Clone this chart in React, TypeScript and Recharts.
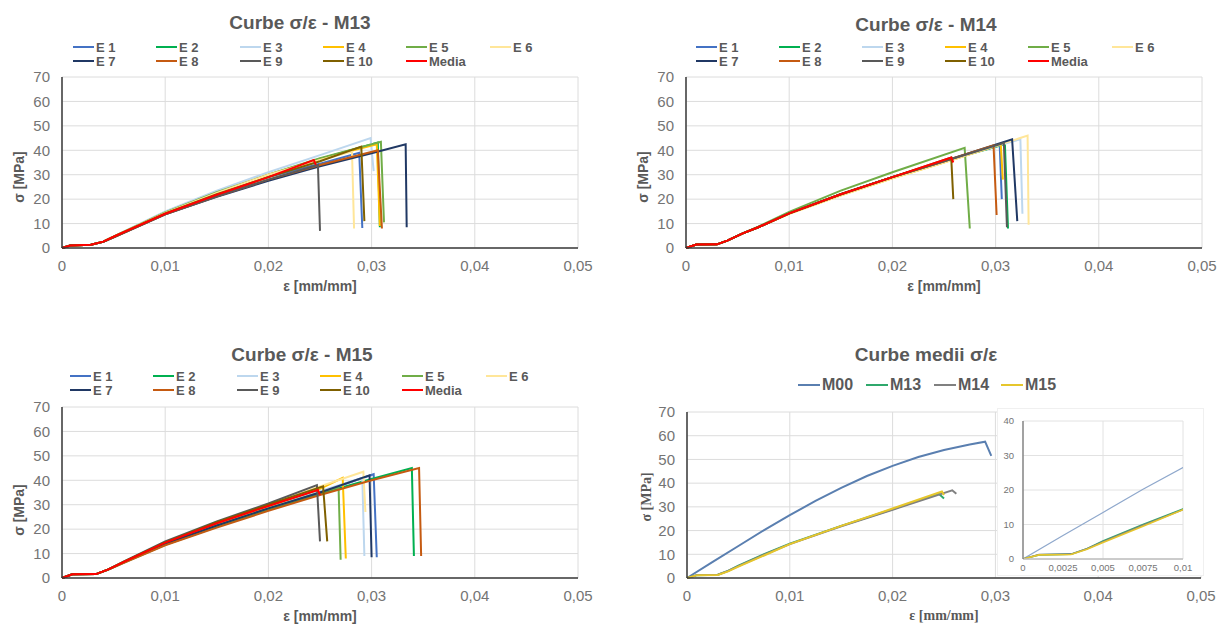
import { CartesianGrid, Line, LineChart, XAxis, YAxis } from "recharts";

type Pt = [number, number];

const strainTicks = [0, 0.01, 0.02, 0.03, 0.04, 0.05];
const stressTicks = [0, 10, 20, 30, 40, 50, 60, 70];
const insetStrainTicks = [0, 0.0025, 0.005, 0.0075, 0.01];
const insetStressTicks = [0, 10, 20, 30, 40];

const testNames = ["E 1", "E 2", "E 3", "E 4", "E 5", "E 6", "E 7", "E 8", "E 9", "E 10", "Media"];
const testColors = ["#4472C4", "#00B050", "#BDD7EE", "#FFC000", "#70AD47", "#FFE699", "#203864", "#C55A11", "#595959", "#7F6000", "#FF0000"];

const meanNames = ["M00", "M13", "M14", "M15"];
const meanColors = ["#5A7FB0", "#2FA86C", "#808080", "#E6C62C"];

// M13
const m13E1: Pt[] = [[0, 0], [0.0008, 1], [0.0028, 1.3], [0.004, 2.6], [0.005, 4.6], [0.01, 14.2], [0.015, 22], [0.02, 29], [0.025, 34.5], [0.0288, 39], [0.0291, 8.2]];
const m13E2: Pt[] = [[0, 0], [0.0008, 1], [0.0028, 1.3], [0.004, 2.6], [0.005, 4.6], [0.01, 14.5], [0.015, 22.5], [0.02, 29.5], [0.025, 36.5], [0.0306, 43.2], [0.0308, 8.5]];
const m13E3: Pt[] = [[0, 0], [0.0008, 1], [0.0028, 1.3], [0.004, 2.7], [0.005, 4.8], [0.01, 15], [0.015, 23.5], [0.02, 31], [0.025, 38], [0.0299, 45], [0.0302, 31.5]];
const m13E4: Pt[] = [[0, 0], [0.0008, 1], [0.0028, 1.3], [0.004, 2.6], [0.005, 4.6], [0.01, 14.5], [0.015, 22.5], [0.02, 30], [0.025, 36.5], [0.0305, 42.5], [0.0308, 9]];
const m13E5: Pt[] = [[0, 0], [0.0008, 1], [0.0028, 1.3], [0.004, 2.6], [0.005, 4.6], [0.01, 14.6], [0.015, 22.8], [0.02, 30], [0.025, 36.8], [0.0309, 43.5], [0.0312, 10.5]];
const m13E6: Pt[] = [[0, 0], [0.0008, 1], [0.0028, 1.3], [0.004, 2.6], [0.005, 4.6], [0.01, 14.4], [0.015, 22.5], [0.02, 30], [0.025, 36], [0.0281, 39.5], [0.0283, 8]];
const m13E7: Pt[] = [[0, 0], [0.0008, 1], [0.0028, 1.3], [0.004, 2.5], [0.005, 4.4], [0.01, 13.8], [0.015, 21], [0.02, 27.5], [0.025, 33.5], [0.03, 38.8], [0.0333, 42.5], [0.0334, 8.5]];
const m13E8: Pt[] = [[0, 0], [0.0008, 1], [0.0028, 1.3], [0.004, 2.5], [0.005, 4.4], [0.01, 13.8], [0.015, 21.2], [0.02, 28], [0.025, 34], [0.0306, 40], [0.031, 8]];
const m13E9: Pt[] = [[0, 0], [0.0008, 1], [0.0028, 1.3], [0.004, 2.5], [0.005, 4.4], [0.01, 13.8], [0.015, 21.2], [0.02, 28], [0.0248, 34], [0.025, 7]];
const m13E10: Pt[] = [[0, 0], [0.0008, 1], [0.0028, 1.3], [0.004, 2.6], [0.005, 4.6], [0.01, 14.2], [0.015, 22], [0.02, 29], [0.025, 35.5], [0.029, 41.5], [0.0293, 11]];
const m13Media: Pt[] = [[0, 0], [0.0008, 1], [0.0028, 1.3], [0.004, 2.6], [0.005, 4.6], [0.01, 14], [0.015, 21.8], [0.02, 29], [0.0244, 36], [0.0246, 34]];

// M14
const m14E1: Pt[] = [[0, 0], [0.001, 1.4], [0.003, 1.5], [0.004, 3], [0.0055, 6], [0.007, 8.5], [0.01, 14.2], [0.015, 22], [0.02, 29], [0.025, 35.5], [0.0304, 42], [0.0306, 20]];
const m14E2: Pt[] = [[0, 0], [0.001, 1.4], [0.003, 1.5], [0.004, 3], [0.0055, 6], [0.007, 8.5], [0.01, 14.2], [0.015, 22], [0.02, 29], [0.025, 35.5], [0.0309, 42.5], [0.0312, 8]];
const m14E3: Pt[] = [[0, 0], [0.001, 1.4], [0.003, 1.5], [0.004, 3], [0.0055, 6], [0.007, 8.5], [0.01, 14.2], [0.015, 22], [0.02, 29], [0.025, 35.5], [0.0324, 44.5], [0.0326, 14]];
const m14E4: Pt[] = [[0, 0], [0.001, 1.4], [0.003, 1.5], [0.004, 3], [0.0055, 6], [0.007, 8.5], [0.01, 14], [0.015, 21.6], [0.02, 28.5], [0.025, 35], [0.0305, 42.5], [0.0307, 28]];
const m14E5: Pt[] = [[0, 0], [0.001, 1.4], [0.003, 1.5], [0.004, 3], [0.0055, 6], [0.007, 8.7], [0.01, 14.8], [0.015, 23.5], [0.02, 31], [0.027, 41], [0.0275, 8]];
const m14E6: Pt[] = [[0, 0], [0.001, 1.4], [0.003, 1.5], [0.004, 3], [0.0055, 6], [0.007, 8.5], [0.01, 14], [0.015, 21.5], [0.02, 28.5], [0.025, 35], [0.0331, 46], [0.0332, 9.5]];
const m14E7: Pt[] = [[0, 0], [0.001, 1.4], [0.003, 1.5], [0.004, 3], [0.0055, 6], [0.007, 8.5], [0.01, 14.2], [0.015, 22], [0.02, 29], [0.025, 35.5], [0.0316, 44.5], [0.0321, 11]];
const m14E8: Pt[] = [[0, 0], [0.001, 1.4], [0.003, 1.5], [0.004, 3], [0.0055, 6], [0.007, 8.5], [0.01, 14.2], [0.015, 22], [0.02, 29], [0.025, 35.5], [0.0298, 42], [0.0301, 13.5]];
const m14E9: Pt[] = [[0, 0], [0.001, 1.4], [0.003, 1.5], [0.004, 3], [0.0055, 6], [0.007, 8.5], [0.01, 14.2], [0.015, 22], [0.02, 29], [0.025, 35.5], [0.0308, 43], [0.0311, 8.5]];
const m14E10: Pt[] = [[0, 0], [0.001, 1.4], [0.003, 1.5], [0.004, 3], [0.0055, 6], [0.007, 8.5], [0.01, 14.2], [0.015, 22], [0.02, 29], [0.0257, 37], [0.0259, 20]];
const m14Media: Pt[] = [[0, 0], [0.001, 1.4], [0.003, 1.5], [0.004, 3], [0.0055, 6], [0.007, 8.5], [0.01, 14.2], [0.015, 22], [0.02, 29], [0.0257, 37], [0.0259, 35]];

// M15
const m15E1: Pt[] = [[0, 0], [0.001, 1.5], [0.0033, 1.6], [0.0045, 3.5], [0.006, 6.5], [0.01, 14], [0.015, 21.5], [0.02, 28.5], [0.025, 35], [0.0302, 42.5], [0.0305, 8.5]];
const m15E2: Pt[] = [[0, 0], [0.001, 1.5], [0.0033, 1.6], [0.0045, 3.5], [0.006, 6.3], [0.01, 13.6], [0.015, 21], [0.02, 28], [0.025, 34.5], [0.03, 40.5], [0.0339, 45], [0.0341, 9]];
const m15E3: Pt[] = [[0, 0], [0.001, 1.5], [0.0033, 1.6], [0.0045, 3.5], [0.006, 6.5], [0.01, 14.2], [0.015, 22], [0.02, 29], [0.025, 35.5], [0.0291, 41], [0.0293, 9]];
const m15E4: Pt[] = [[0, 0], [0.001, 1.5], [0.0033, 1.6], [0.0045, 3.5], [0.006, 6.5], [0.01, 14.4], [0.015, 22.4], [0.02, 29.5], [0.025, 36.5], [0.0272, 41], [0.0275, 8]];
const m15E5: Pt[] = [[0, 0], [0.001, 1.5], [0.0033, 1.6], [0.0045, 3.5], [0.006, 6.5], [0.01, 14], [0.015, 21.5], [0.02, 28.5], [0.025, 35], [0.0268, 37], [0.027, 7.5]];
const m15E6: Pt[] = [[0, 0], [0.001, 1.5], [0.0033, 1.6], [0.0045, 3.5], [0.006, 6.6], [0.01, 14.6], [0.015, 22.8], [0.02, 30], [0.025, 37.5], [0.0292, 43.5], [0.0294, 27]];
const m15E7: Pt[] = [[0, 0], [0.001, 1.5], [0.0033, 1.6], [0.0045, 3.5], [0.006, 6.5], [0.01, 14], [0.015, 21.5], [0.02, 28.5], [0.025, 35], [0.0298, 42], [0.03, 8.5]];
const m15E8: Pt[] = [[0, 0], [0.001, 1.5], [0.0033, 1.6], [0.0045, 3.5], [0.006, 6.2], [0.01, 13.4], [0.015, 20.6], [0.02, 27.5], [0.025, 34], [0.03, 40], [0.0346, 45], [0.0348, 9]];
const m15E9: Pt[] = [[0, 0], [0.001, 1.5], [0.0033, 1.6], [0.0045, 3.5], [0.006, 6.8], [0.01, 15], [0.015, 23.2], [0.02, 30.5], [0.0247, 38], [0.025, 15]];
const m15E10: Pt[] = [[0, 0], [0.001, 1.5], [0.0033, 1.6], [0.0045, 3.5], [0.006, 6.7], [0.01, 14.6], [0.015, 22.8], [0.02, 30], [0.0253, 37.5], [0.0257, 15]];
const m15Media: Pt[] = [[0, 0], [0.001, 1.5], [0.0033, 1.6], [0.0045, 3.5], [0.006, 6.6], [0.01, 14.5], [0.015, 22.4], [0.02, 29.5], [0.0248, 36], [0.025, 34]];

// curve medii
const meanM00: Pt[] = [[0, 0], [0.0025, 6.8], [0.005, 13.5], [0.0075, 20.2], [0.01, 26.5], [0.0125, 32.5], [0.015, 38], [0.0175, 43], [0.02, 47.3], [0.0225, 51], [0.025, 54], [0.0275, 56.3], [0.029, 57.5], [0.0296, 51.5]];
const meanM13: Pt[] = [[0, 0], [0.001, 1.2], [0.003, 1.4], [0.004, 3], [0.005, 5.2], [0.0075, 10], [0.01, 14.5], [0.015, 22], [0.02, 29], [0.0245, 35.5], [0.025, 33.5]];
const meanM14: Pt[] = [[0, 0], [0.001, 1.3], [0.003, 1.4], [0.004, 3], [0.005, 5], [0.0075, 9.8], [0.01, 14.3], [0.015, 21.8], [0.02, 28.8], [0.0258, 37], [0.0262, 35.5]];
const meanM15: Pt[] = [[0, 0], [0.001, 1.2], [0.003, 1.3], [0.004, 2.8], [0.005, 4.8], [0.0075, 9.5], [0.01, 14.3], [0.015, 22], [0.02, 29.3], [0.0248, 36.5], [0.025, 35]];

const m13Curves = [m13E1, m13E2, m13E3, m13E4, m13E5, m13E6, m13E7, m13E8, m13E9, m13E10, m13Media];
const m14Curves = [m14E1, m14E2, m14E3, m14E4, m14E5, m14E6, m14E7, m14E8, m14E9, m14E10, m14Media];
const m15Curves = [m15E1, m15E2, m15E3, m15E4, m15E5, m15E6, m15E7, m15E8, m15E9, m15E10, m15Media];
const meanCurves = [meanM00, meanM13, meanM14, meanM15];

const SANS = "'Liberation Sans', Arial, sans-serif";
const SERIF = "'Liberation Serif', 'Times New Roman', serif";
const GREY = "#595959";
const TICK = "#747474";

const fmt = (v: number) => String(v).replace(".", ",");
const toRows = (pts: Pt[]) => pts.map(([x, y]) => ({ x, y }));

interface Box { l: number; t: number; r: number; b: number }

interface PanelProps {
  x: number;
  y: number;
  w: number;
  h: number;
  plot: Box;
  title: string;
  titleX: number;
  titleY: number;
  curves: Pt[][];
  names: string[];
  colors: string[];
  legendCols: number[];
  legendRows: number[];
  legendFont: number;
  legendLine: number;
  yLabelX: number;
  yLabelY: number;
  xLabelY: number;
  serifLabels?: boolean;
}

function Panel(p: PanelProps) {
  const xAxisH = 30;
  const labelFont = p.serifLabels ? SERIF : SANS;
  return (
    <>
      <div style={{ position: "absolute", left: p.titleX - 200, top: p.titleY - 12, width: 400, textAlign: "center", fontSize: 19, fontWeight: "bold", color: GREY, lineHeight: "24px" }}>
        {p.title}
      </div>
      {p.names.map((name, i) => {
        const col = i % p.legendCols.length;
        const row = Math.floor(i / p.legendCols.length);
        return (
          <div key={name} style={{ position: "absolute", left: p.legendCols[col], top: p.legendRows[row] - 9, height: 18, display: "flex", alignItems: "center", whiteSpace: "nowrap" }}>
            <span style={{ display: "inline-block", width: p.legendLine, height: 2, background: p.colors[i] }} />
            <span style={{ marginLeft: 2, fontSize: p.legendFont, fontWeight: "bold", color: GREY }}>{name}</span>
          </div>
        );
      })}
      <div style={{ position: "absolute", left: p.x, top: p.y }}>
        <LineChart
          width={p.w}
          height={p.h}
          margin={{ top: p.plot.t - p.y, right: p.x + p.w - p.plot.r, left: 0, bottom: p.y + p.h - p.plot.b - xAxisH }}
        >
          <CartesianGrid stroke="#DCDCDC" strokeWidth={1} />
          <XAxis
            dataKey="x"
            type="number"
            domain={[0, 0.05]}
            ticks={strainTicks}
            tickFormatter={fmt}
            height={xAxisH}
            tickLine={false}
            tickSize={0}
            tickMargin={12}
            axisLine={{ stroke: "#3A3A3A", strokeWidth: 1.5 }}
            tick={{ fill: TICK, fontSize: 15 }}
            allowDuplicatedCategory={false}
          />
          <YAxis
            dataKey="y"
            type="number"
            domain={[0, 70]}
            ticks={stressTicks}
            width={p.plot.l - p.x}
            tickLine={false}
            tickSize={0}
            tickMargin={12}
            axisLine={{ stroke: "#3A3A3A", strokeWidth: 1.5 }}
            tick={{ fill: TICK, fontSize: 15 }}
          />
          {p.curves.map((pts, i) => (
            <Line
              key={p.names[i]}
              data={toRows(pts)}
              dataKey="y"
              type="linear"
              stroke={p.colors[i]}
              strokeWidth={2}
              dot={false}
              activeDot={false}
              isAnimationActive={false}
            />
          ))}
        </LineChart>
      </div>
      <div style={{ position: "absolute", left: (p.plot.l + p.plot.r) / 2 - 100, top: p.xLabelY - 9, width: 200, textAlign: "center", fontSize: 14, fontWeight: "bold", color: GREY, fontFamily: labelFont, lineHeight: "18px" }}>
        ε [mm/mm]
      </div>
      <div style={{ position: "absolute", left: p.yLabelX - 50, top: p.yLabelY - 9, width: 100, textAlign: "center", fontSize: 14, fontWeight: "bold", color: GREY, fontFamily: labelFont, lineHeight: "18px", transform: "rotate(-90deg)" }}>
        σ [MPa]
      </div>
    </>
  );
}

function Inset() {
  const box = { x: 998, y: 409, w: 205, h: 166 };
  const plot = { l: 1023, t: 421, r: 1183, b: 559 };
  const xAxisH = 14;
  return (
    <div style={{ position: "absolute", left: box.x, top: box.y, background: "#FFFFFF", outline: "1px solid #F0F0F0" }}>
      <LineChart
        width={box.w}
        height={box.h}
        margin={{ top: plot.t - box.y, right: box.x + box.w - plot.r, left: 0, bottom: box.y + box.h - plot.b - xAxisH }}
      >
        <CartesianGrid stroke="#E2E2E2" strokeWidth={1} />
        <XAxis
          dataKey="x"
          type="number"
          domain={[0, 0.01]}
          ticks={insetStrainTicks}
          tickFormatter={fmt}
          allowDataOverflow
          height={xAxisH}
          tickLine={false}
          tickSize={0}
          tickMargin={5}
          axisLine={{ stroke: "#BFBFBF", strokeWidth: 1.5 }}
          tick={{ fill: TICK, fontSize: 9.5 }}
          allowDuplicatedCategory={false}
        />
        <YAxis
          dataKey="y"
          type="number"
          domain={[0, 40]}
          ticks={insetStressTicks}
          allowDataOverflow
          width={plot.l - box.x}
          tickLine={false}
          tickSize={0}
          tickMargin={9}
          axisLine={{ stroke: "#6E6E6E", strokeWidth: 1.2 }}
          tick={{ fill: TICK, fontSize: 9.5 }}
        />
        {meanCurves.map((pts, i) => (
          <Line
            key={meanNames[i]}
            data={toRows(pts)}
            dataKey="y"
            type="linear"
            stroke={i === 0 ? "#8FA8CC" : meanColors[i]}
            strokeWidth={i === 0 ? 1.2 : 1.6}
            dot={false}
            activeDot={false}
            isAnimationActive={false}
          />
        ))}
      </LineChart>
    </div>
  );
}

export default function App() {
  return (
    <div style={{ position: "absolute", left: 0, top: 0, width: 1218, height: 626, background: "#FFFFFF", fontFamily: SANS, overflow: "hidden" }}>
      <Panel
        x={0} y={0} w={600} h={300}
        plot={{ l: 62, t: 77, r: 578, b: 248 }}
        title="Curbe σ/ε - M13" titleX={300} titleY={23}
        curves={m13Curves} names={testNames} colors={testColors}
        legendCols={[73, 156, 240, 323, 406, 490]} legendRows={[47, 61]} legendFont={13} legendLine={21}
        yLabelX={19} yLabelY={177} xLabelY={286}
      />
      <Panel
        x={610} y={0} w={608} h={300}
        plot={{ l: 686, t: 77, r: 1202, b: 248 }}
        title="Curbe σ/ε - M14" titleX={926} titleY={25}
        curves={m14Curves} names={testNames} colors={testColors}
        legendCols={[696, 779, 862, 945, 1028, 1112]} legendRows={[47, 61]} legendFont={13} legendLine={21}
        yLabelX={643} yLabelY={177} xLabelY={286}
      />
      <Panel
        x={0} y={330} w={600} h={296}
        plot={{ l: 62, t: 407, r: 578, b: 578 }}
        title="Curbe σ/ε - M15" titleX={302} titleY={355}
        curves={m15Curves} names={testNames} colors={testColors}
        legendCols={[70, 153, 237, 320, 402, 486]} legendRows={[376, 390]} legendFont={13} legendLine={21}
        yLabelX={19} yLabelY={510} xLabelY={616}
      />
      <Panel
        x={610} y={330} w={608} h={296}
        plot={{ l: 687, t: 412, r: 1201, b: 578 }}
        title="Curbe medii σ/ε" titleX={926} titleY={355}
        curves={meanCurves} names={meanNames} colors={meanColors}
        legendCols={[798, 866, 934, 1001]} legendRows={[385]} legendFont={16} legendLine={22}
        yLabelX={647} yLabelY={497} xLabelY={616}
        serifLabels
      />
      <Inset />
    </div>
  );
}
